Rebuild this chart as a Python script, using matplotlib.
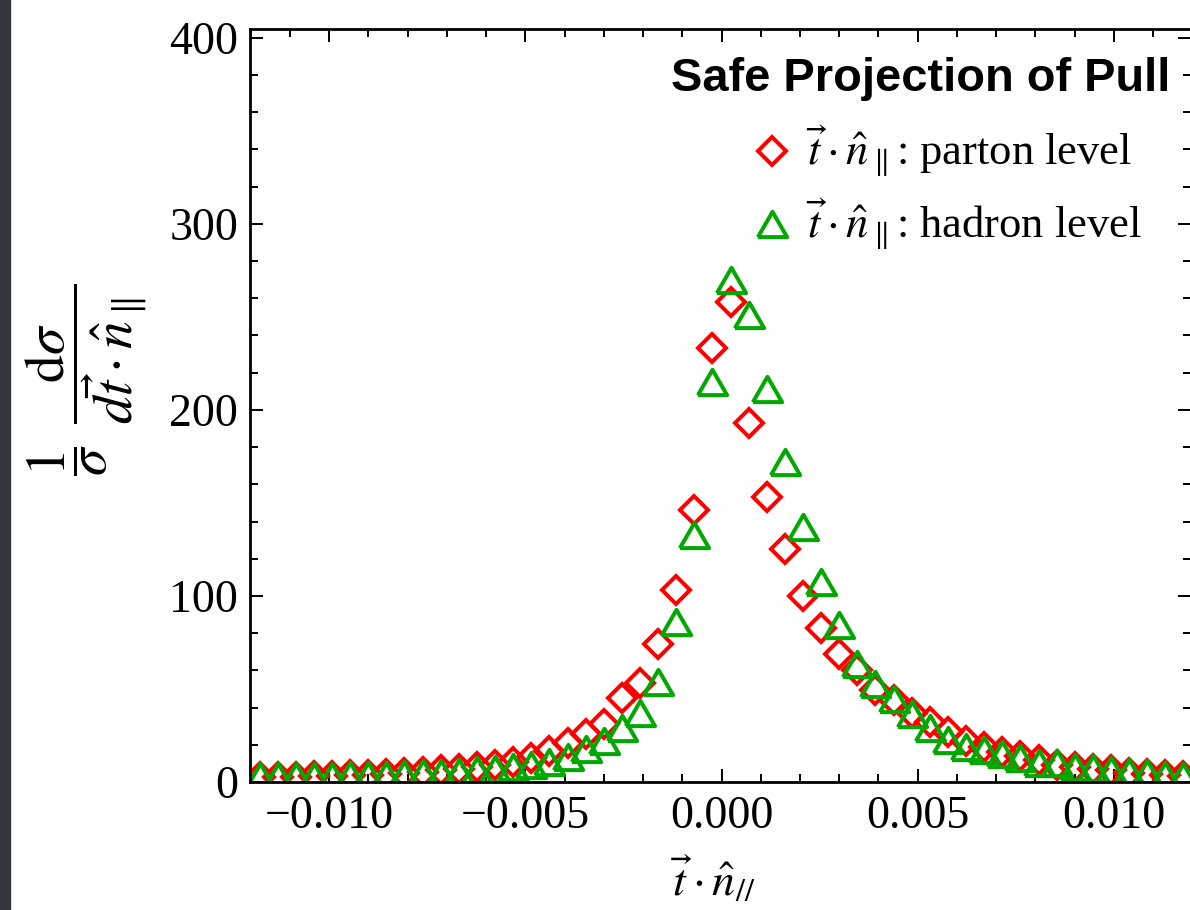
import matplotlib
matplotlib.use("Agg")
import matplotlib.pyplot as plt
from matplotlib.patches import Rectangle
from matplotlib.ticker import MultipleLocator, FuncFormatter

plt.rcParams['font.family'] = 'serif'
plt.rcParams['font.serif'] = ['Liberation Serif', 'DejaVu Serif']
plt.rcParams['mathtext.fontset'] = 'stix'

# bin centres (52 bins between -0.012 and 0.012)
bin_centers = [
    -0.011769, -0.011308, -0.010846, -0.010385, -0.009923, -0.009462,
    -0.009000, -0.008538, -0.008077, -0.007615, -0.007154, -0.006692,
    -0.006231, -0.005769, -0.005308, -0.004846, -0.004385, -0.003923,
    -0.003462, -0.003000, -0.002538, -0.002077, -0.001615, -0.001154,
    -0.000692, -0.000231, 0.000231, 0.000692, 0.001154, 0.001615,
    0.002077, 0.002538, 0.003000, 0.003462, 0.003923, 0.004385,
    0.004846, 0.005308, 0.005769, 0.006231, 0.006692, 0.007154,
    0.007615, 0.008077, 0.008538, 0.009000, 0.009462, 0.009923,
    0.010385, 0.010846, 0.011308, 0.011769,
]

parton_level = [
    2.5, 2.6, 2.8, 3.0, 3.3, 3.6, 4.0, 4.4, 5.0, 5.6, 6.3, 7.0,
    8.0, 9.0, 11.0, 13.0, 16.5, 21.0, 26.0, 31.0, 45.0, 53.0, 74.0, 103.0,
    146.0, 233.0, 258.0, 193.0, 153.0, 125.0, 100.0, 83.0, 69.0, 60.0, 49.5, 44.0,
    37.0, 32.0, 27.0, 22.0, 18.7, 16.0, 14.0, 11.6, 9.2, 7.8, 7.2, 6.4,
    4.7, 4.4, 3.5, 3.0,
]

hadron_level = [
    3.0, 3.0, 3.1, 3.2, 3.3, 3.5, 3.8, 4.0, 4.3, 4.7, 5.0, 5.5,
    6.3, 7.0, 8.0, 9.3, 11.0, 13.6, 17.5, 22.0, 29.0, 37.0, 54.0, 86.0,
    133.0, 215.0, 270.0, 251.0, 211.0, 172.0, 137.0, 107.5, 84.5, 63.5, 52.7, 44.6,
    36.7, 29.0, 22.6, 18.8, 17.2, 14.9, 12.7, 10.4, 10.0, 8.2, 7.4, 6.5,
    5.2, 4.7, 3.8, 3.2,
]

W, H = 1190, 910
fig = plt.figure(figsize=(W / 100, H / 100), dpi=100)

# dark strip at the left edge of the screenshot
fig.add_artist(Rectangle((0, 0), 10 / W, 1, transform=fig.transFigure,
                         color='#33373b', zorder=0))

ax = fig.add_axes([250 / W, 1 - 782 / H, (1191 - 250) / W, (782 - 29) / H])

# equilateral triangle marker
tri = [(-1.0, -0.866), (1.0, -0.866), (0.0, 0.866), (-1.0, -0.866)]

fs = 33

h1, = ax.plot(bin_centers, parton_level, ls='none', marker='D', ms=14.0,
              mfc='none', mec='#ff0000', mew=2.9,
              label=r'$\vec{t}\cdot\hat{n}_{\parallel}$: parton level')
h2, = ax.plot(bin_centers, hadron_level, ls='none', marker=tri, ms=21.0,
              mfc='none', mec='#00a800', mew=2.9,
              label=r'$\vec{t}\cdot\hat{n}_{\parallel}$: hadron level')

ax.set_xlim(-0.012013, 0.011962)
ax.set_ylim(0, 404.7)

ax.xaxis.set_major_locator(MultipleLocator(0.005))
ax.xaxis.set_minor_locator(MultipleLocator(0.001))
ax.yaxis.set_major_locator(MultipleLocator(100))
ax.yaxis.set_minor_locator(MultipleLocator(20))


def xfmt(v, pos):
    if abs(v) < 1e-9:
        return '0.000'
    s = '%.3f' % abs(v)
    return ('\u2212' + s) if v < 0 else s


ax.xaxis.set_major_formatter(FuncFormatter(xfmt))
ax.yaxis.set_major_formatter(FuncFormatter(lambda v, p: '%d' % v))

ax.tick_params(which='both', direction='in', top=True, right=True,
               labelsize=fs, width=1.4, color='black')
ax.tick_params(which='major', length=9.4)
ax.tick_params(which='minor', length=5.8)
ax.tick_params(axis='x', pad=10)
ax.tick_params(axis='y', pad=8.5)
for sp in ax.spines.values():
    sp.set_linewidth(2.0)

leg = ax.legend(handles=[h1, h2], loc='upper left',
                bbox_to_anchor=(754 / W, 1 - 124 / H),
                bbox_transform=fig.transFigure, frameon=False,
                handlelength=0.82, handletextpad=0.36, borderpad=0,
                borderaxespad=0, labelspacing=0.38, fontsize=32)

fig.text(1170 / W, 1 - 91 / H, 'Safe Projection of Pull', ha='right',
         va='baseline', fontfamily='Liberation Sans', fontweight='bold',
         fontsize=33.8)

fig.text(713 / W, 1 - 880 / H, r'$\vec{t}\cdot\hat{n}_{//}$', ha='center',
         va='center', fontsize=fs)
fig.text(86 / W, 1 - 380 / H,
         r'$\dfrac{1}{\sigma}\;\,\dfrac{\mathrm{d}\sigma}{d\vec{t}\cdot\hat{n}_{\parallel}}$',
         ha='center', va='center', rotation=90, fontsize=40)

fig.savefig('out.png', dpi=100)
